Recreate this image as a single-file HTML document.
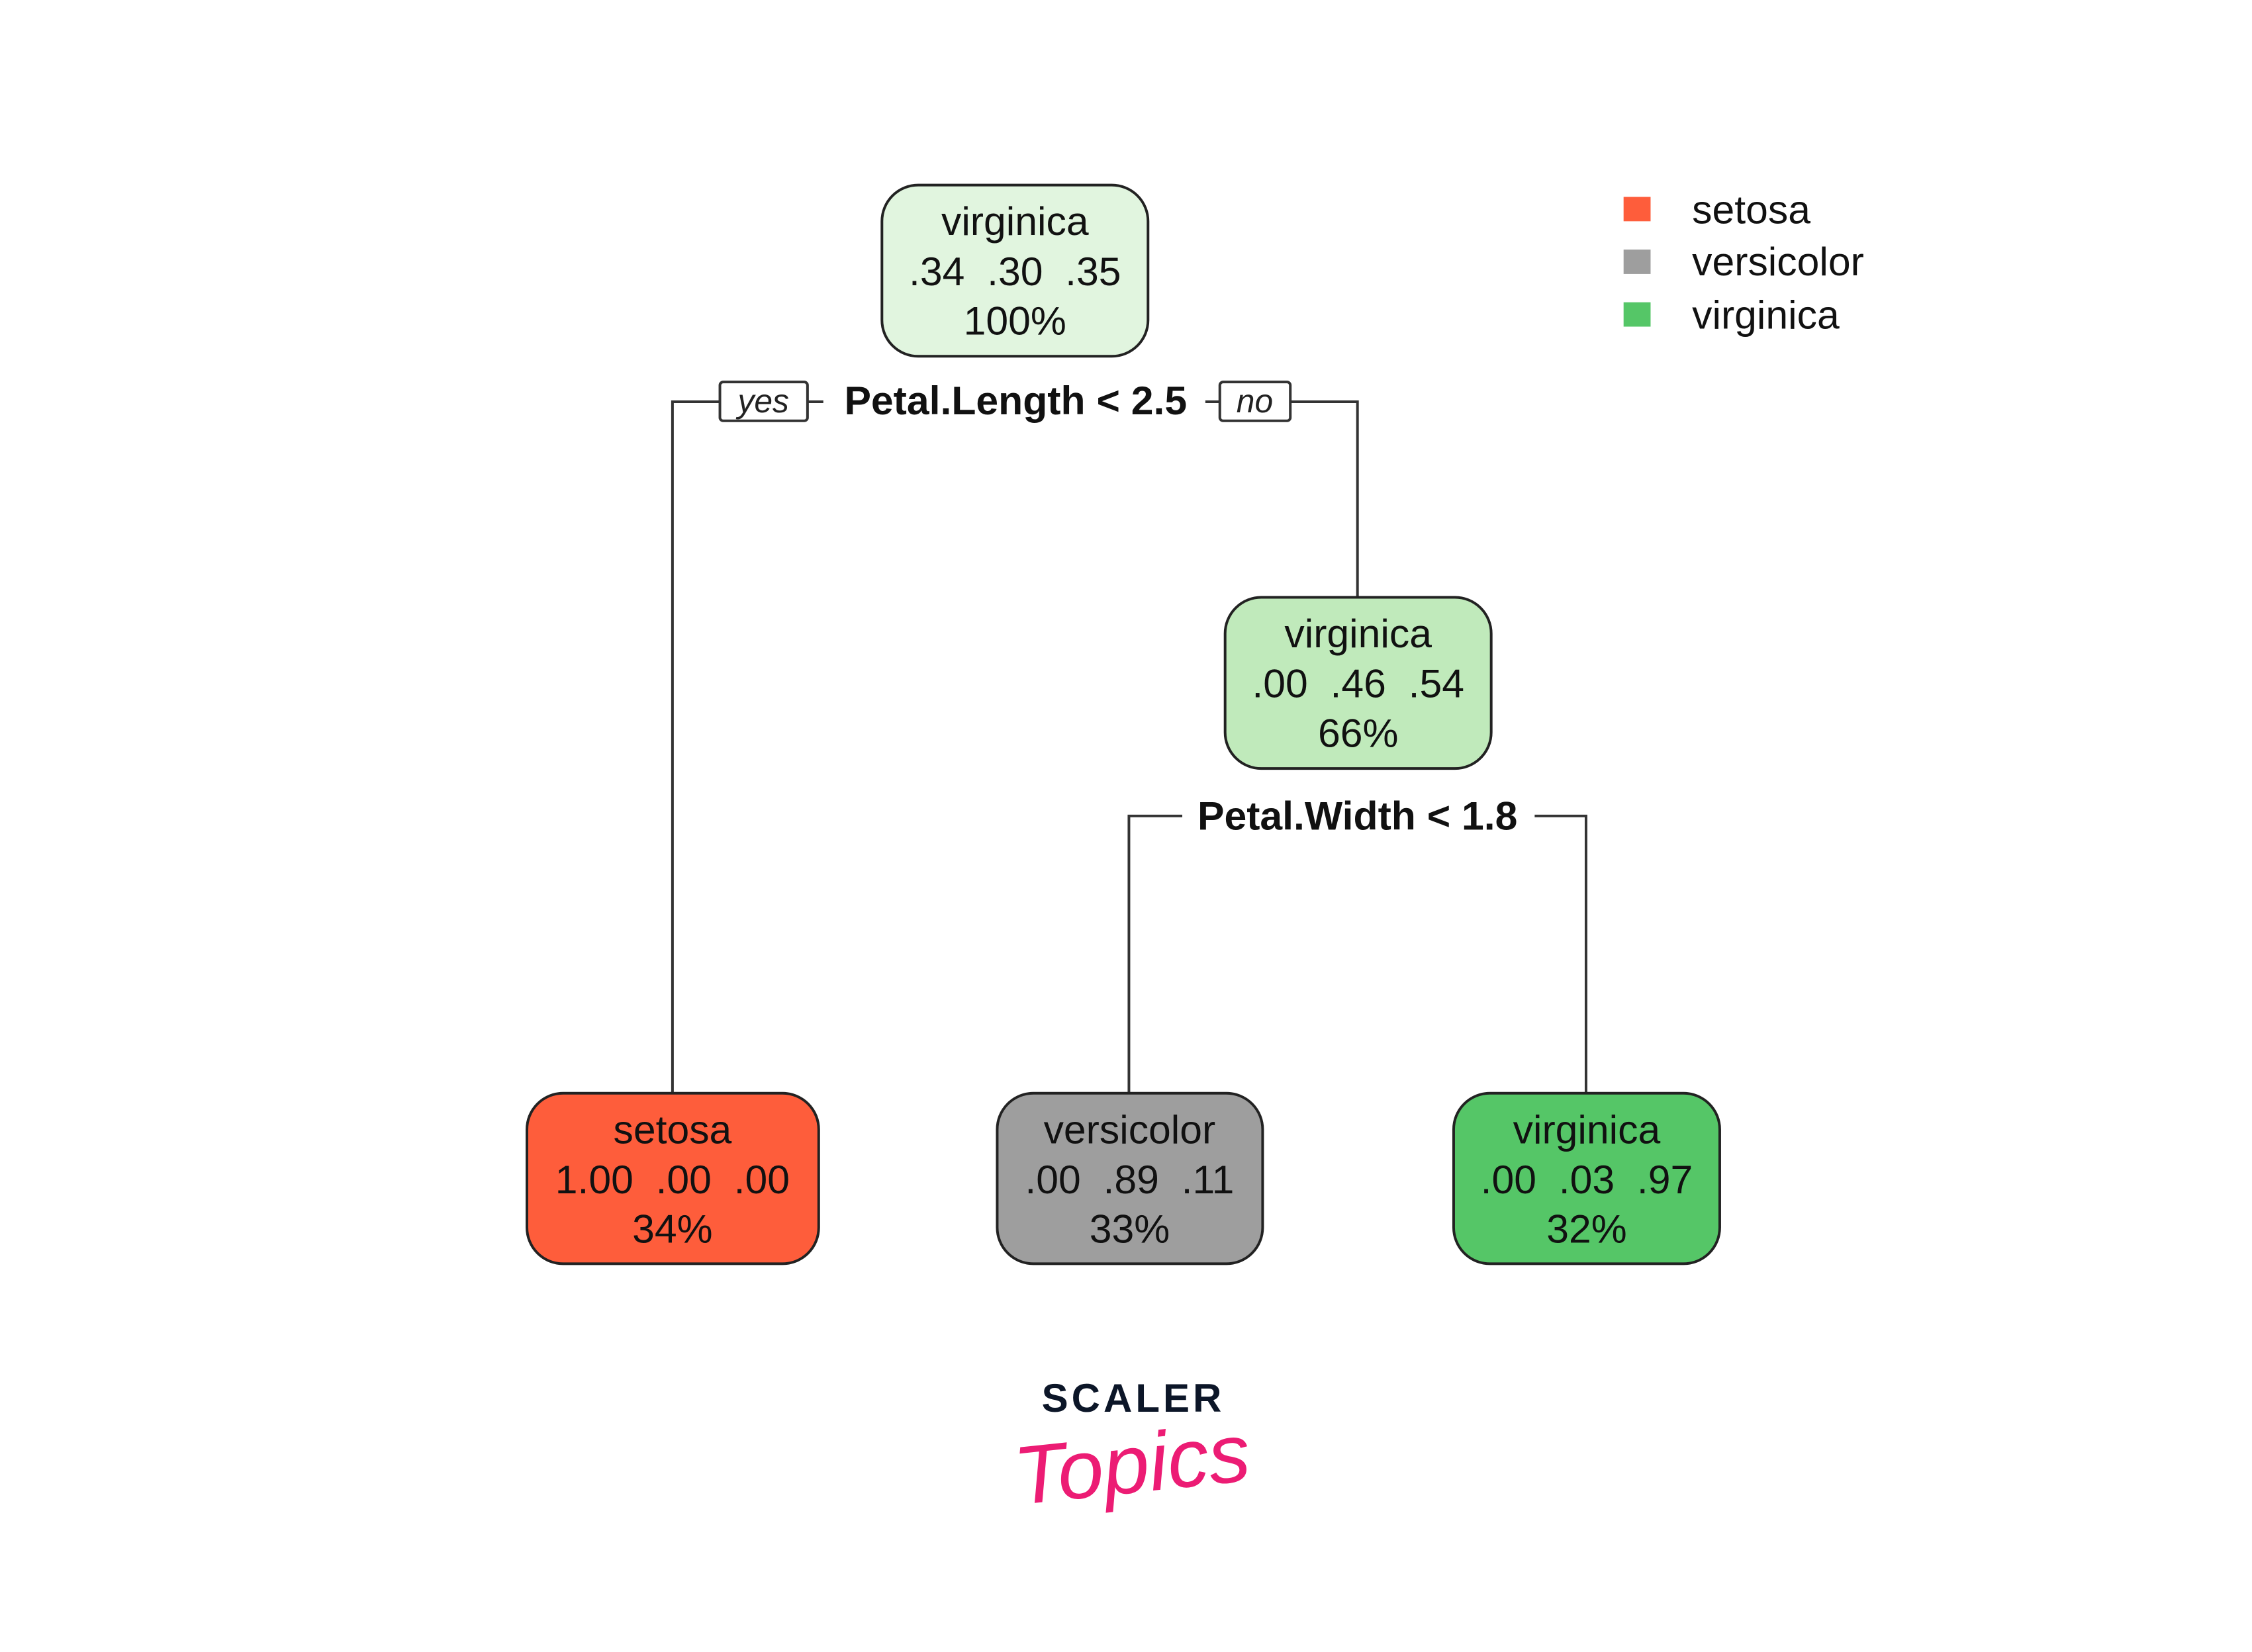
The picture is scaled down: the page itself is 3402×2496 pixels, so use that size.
<!DOCTYPE html>
<html><head><meta charset="utf-8">
<style>
html,body{margin:0;padding:0;background:#fff;}
svg{display:block;}
text{font-family:"Liberation Sans",Arial,sans-serif;}
</style></head>
<body>
<svg width="3402" height="2496" viewBox="0 0 3402 2496" xmlns="http://www.w3.org/2000/svg">
<rect width="3402" height="2496" fill="#fff"/>
<g transform="scale(0.995)">
<!-- connectors -->
<g stroke="#333" stroke-width="4" fill="none">
<polyline points="1021,1660 1021,610 1093,610"/>
<line x1="1226" y1="610" x2="1250" y2="610"/>
<line x1="1830" y1="610" x2="1852" y2="610"/>
<polyline points="1959,610 2061,610 2061,907"/>
<polyline points="1714,1660 1714,1239 1795,1239"/>
<polyline points="2330,1239 2408,1239 2408,1660"/>
</g>
<rect x="1093" y="580" width="133" height="59" rx="5" fill="#fff" stroke="#333" stroke-width="4"/>
<text x="1159" y="626" font-size="50" font-style="italic" text-anchor="middle" fill="#222">yes</text>
<rect x="1852" y="580" width="107" height="59" rx="5" fill="#fff" stroke="#333" stroke-width="4"/>
<text x="1905" y="626" font-size="50" font-style="italic" text-anchor="middle" fill="#222">no</text>
<text x="1542" y="629" font-size="61" font-weight="bold" text-anchor="middle" fill="#111">Petal.Length &lt; 2.5</text>
<text x="2061" y="1260" font-size="61" font-weight="bold" text-anchor="middle" fill="#111">Petal.Width &lt; 1.8</text>
<g stroke="#222" stroke-width="4">
<rect x="1339" y="281" width="404" height="260" rx="55" fill="#e1f5df"/>
<rect x="1860" y="907" width="404" height="260" rx="55" fill="#c0eabb"/>
<rect x="800" y="1660" width="443" height="259" rx="55" fill="#fe5d3b"/>
<rect x="1514" y="1660" width="403" height="259" rx="55" fill="#9e9e9e"/>
<rect x="2207" y="1660" width="404" height="259" rx="55" fill="#55c667"/>
</g>
<g font-size="61" text-anchor="middle" fill="#111">
<text x="1541" y="357">virginica</text>
<text x="1541" y="433" xml:space="preserve">.34  .30  .35</text>
<text x="1541" y="508">100%</text>
<text x="2062" y="983">virginica</text>
<text x="2062" y="1059" xml:space="preserve">.00  .46  .54</text>
<text x="2062" y="1134">66%</text>
<text x="1021" y="1736">setosa</text>
<text x="1021" y="1812" xml:space="preserve">1.00  .00  .00</text>
<text x="1021" y="1887">34%</text>
<text x="1715" y="1736">versicolor</text>
<text x="1715" y="1812" xml:space="preserve">.00  .89  .11</text>
<text x="1715" y="1887">33%</text>
<text x="2409" y="1736">virginica</text>
<text x="2409" y="1812" xml:space="preserve">.00  .03  .97</text>
<text x="2409" y="1887">32%</text>
</g>
<rect x="2465" y="299" width="41" height="37" fill="#fe5d3b"/>
<rect x="2465" y="379" width="41" height="37" fill="#9e9e9e"/>
<rect x="2465" y="459" width="41" height="37" fill="#55c667"/>
<g font-size="61" fill="#111">
<text x="2569" y="339">setosa</text>
<text x="2569" y="418">versicolor</text>
<text x="2569" y="499">virginica</text>
</g>
</g>
<!-- logo -->
<text x="1712" y="2133" font-size="60" font-weight="bold" text-anchor="middle" fill="#0c1628" letter-spacing="5">SCALER</text>
<text x="1712" y="2255" font-size="125" font-style="italic" text-anchor="middle" fill="#ec1c74" font-family="Liberation Serif, serif" transform="rotate(-6 1712 2230)">Topics</text>
</svg>
</body></html>
